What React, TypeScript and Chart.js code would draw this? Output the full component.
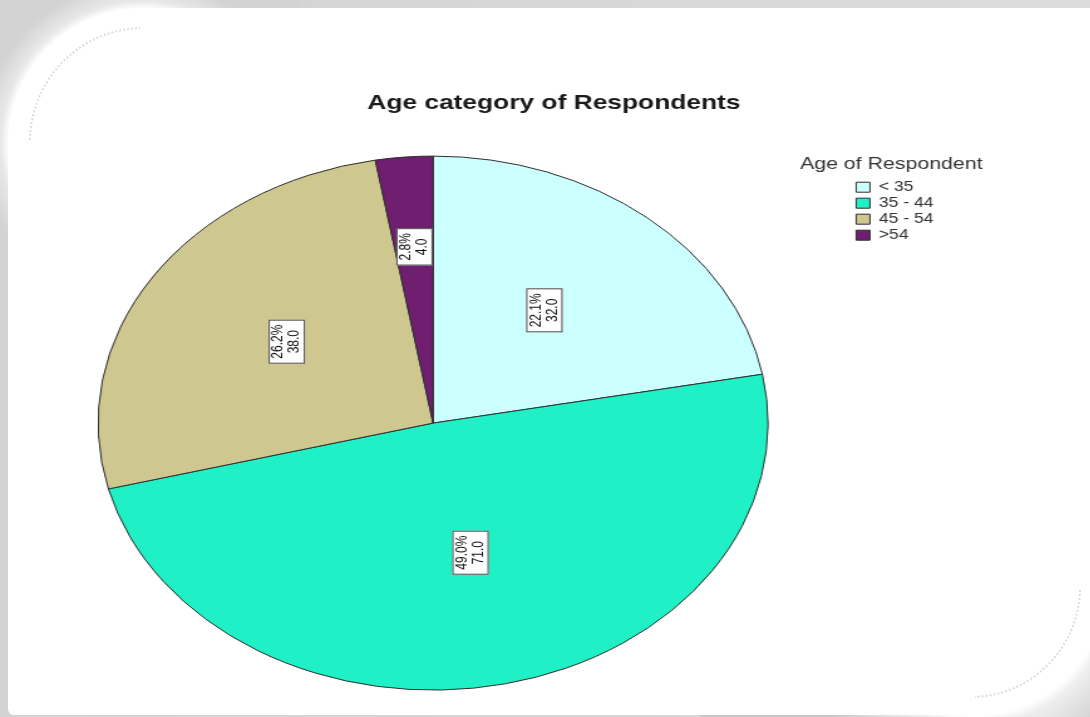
import React, { useEffect, useRef } from "react";
import { Chart, registerables } from "chart.js";

Chart.register(...registerables);

// ---- data ----
const categories = ["< 35", "35 - 44", "45 - 54", ">54"];
const counts = [32, 71, 38, 4];
const sliceColors = ["#CCFFFF", "#1FF0C6", "#CEC78F", "#701E70"];
const chartTitle = "Age category of Respondents";
const legendTitle = "Age of Respondent";

// ---- layout (canvas is drawn unstretched, then widened horizontally like the source image) ----
const SX = 1.255;
const W0 = 860;
const H = 717;
const FONT = '"Liberation Sans", Arial, Helvetica, sans-serif';
const TITLE_CENTER = 433.5;

const sliceLabels = {
  id: "sliceLabels",
  afterDatasetsDraw(chart: any) {
    const meta = chart.getDatasetMeta(0);
    const values = chart.data.datasets[0].data as number[];
    const total = values.reduce((a, b) => a + b, 0);
    const ctx = chart.ctx as CanvasRenderingContext2D;
    ctx.save();
    ctx.font = `12px ${FONT}`;
    meta.data.forEach((arc: any, i: number) => {
      const p = arc.getProps(["x", "y", "startAngle", "endAngle", "outerRadius"], true);
      const span = p.endAngle - p.startAngle;
      const mid = (p.startAngle + p.endAngle) / 2;
      const frac = span < 0.35 ? 0.64 : 0.52;
      const cx = p.x + Math.cos(mid) * p.outerRadius * frac;
      const cy = p.y + Math.sin(mid) * p.outerRadius * frac - 6;
      const l1 = `${((values[i] / total) * 100).toFixed(1)}%`;
      const l2 = values[i].toFixed(1);
      const tw = Math.max(ctx.measureText(l1).width, ctx.measureText(l2).width);
      const w = tw + 10;
      const h = 29;
      ctx.save();
      ctx.translate(cx, cy);
      ctx.rotate(-Math.PI / 2);
      ctx.fillStyle = "#ffffff";
      ctx.fillRect(-w / 2, -h / 2, w, h);
      ctx.strokeStyle = "#4a4a4a";
      ctx.lineWidth = 1;
      ctx.strokeRect(-w / 2 + 0.5, -h / 2 + 0.5, w - 1, h - 1);
      ctx.fillStyle = "#111";
      ctx.textAlign = "center";
      ctx.textBaseline = "middle";
      ctx.fillText(l1, 0, -6.5);
      ctx.fillText(l2, 0, 6.5);
      ctx.restore();
    });
    ctx.restore();
  },
};

const titleShift = {
  id: "titleShift",
  afterLayout(chart: any) {
    const t = chart.titleBlock;
    if (t) {
      const half = (t.right - t.left) / 2;
      t.left = TITLE_CENTER - half;
      t.right = TITLE_CENTER + half;
    }
  },
};

const legendHeading = {
  id: "legendHeading",
  afterDraw(chart: any) {
    const lg = chart.legend;
    if (!lg) return;
    const ctx = chart.ctx as CanvasRenderingContext2D;
    ctx.save();
    ctx.font = `17px ${FONT}`;
    ctx.fillStyle = "#333";
    ctx.textAlign = "center";
    ctx.textBaseline = "middle";
    ctx.fillText(legendTitle, lg.left + 30, lg.top - 14);
    ctx.restore();
  },
};

function PieChart() {
  const ref = useRef<HTMLCanvasElement | null>(null);
  useEffect(() => {
    if (!ref.current) return;
    const chart = new Chart(ref.current, {
      type: "pie",
      data: {
        labels: categories,
        datasets: [
          {
            data: counts,
            backgroundColor: sliceColors,
            borderColor: "#2e2e2e",
            borderWidth: 1,
            radius: 267,
            clip: false,
          } as any,
        ],
      },
      options: {
        responsive: false,
        animation: false,
        devicePixelRatio: 1,
        layout: { padding: { left: 2, right: 114, top: 0, bottom: 49 } },
        plugins: {
          title: {
            display: true,
            text: chartTitle,
            color: "#1a1a1a",
            font: { family: FONT, size: 21, weight: "bold" },
            padding: { top: 91, bottom: 62 },
          },
          legend: {
            display: true,
            position: "right",
            align: "start",
            fullSize: false,
            labels: {
              boxWidth: 11,
              boxHeight: 10,
              padding: 2,
              color: "#333",
              font: { family: FONT, size: 14 },
            },
          },
          tooltip: { enabled: false },
        },
      } as any,
      plugins: [sliceLabels, titleShift, legendHeading],
    });
    return () => chart.destroy();
  }, []);
  return (
    <canvas
      ref={ref}
      width={W0}
      height={H}
      style={{ position: "absolute", left: 10, top: 0, width: W0 * SX, height: H }}
    />
  );
}

export default function App() {
  return (
    <div
      style={{
        position: "fixed",
        left: 0,
        top: 0,
        width: 1090,
        height: 717,
        overflow: "hidden",
        backgroundColor: "#d3d3d3",
        backgroundImage:
          "radial-gradient(circle at 143px 143px, #ffffff 134px, #e8e8e8 142px, #d3d3d3 162px), radial-gradient(circle at 275px 185px, #ffffff 130px, #eeeeee 140px, #c6c6c6 195px), linear-gradient(90deg, #d2d2d2, #dcdcdc)",
        backgroundSize: "300px 300px, 390px 317px, 100% 100%",
        backgroundPosition: "0 0, 700px 400px, 0 0",
        backgroundRepeat: "no-repeat",
      }}
    >
      <div
        style={{
          position: "absolute",
          left: 8,
          top: 8,
          width: 1097,
          height: 707,
          background: "#ffffff",
          borderRadius: "135px 0 130px 6px",
        }}
      />
      <svg
        width={1090}
        height={717}
        style={{ position: "absolute", left: 0, top: 0 }}
      >
        <path
          d="M 30 140 A 114 114 0 0 1 140 28"
          fill="none"
          stroke="#dcdcdc"
          strokeWidth={2}
          strokeDasharray="2 2"
        />
        <path
          d="M 1080 590 A 110 110 0 0 1 975 697"
          fill="none"
          stroke="#dcdcdc"
          strokeWidth={2}
          strokeDasharray="2 2"
        />
      </svg>
      <PieChart />
    </div>
  );
}
